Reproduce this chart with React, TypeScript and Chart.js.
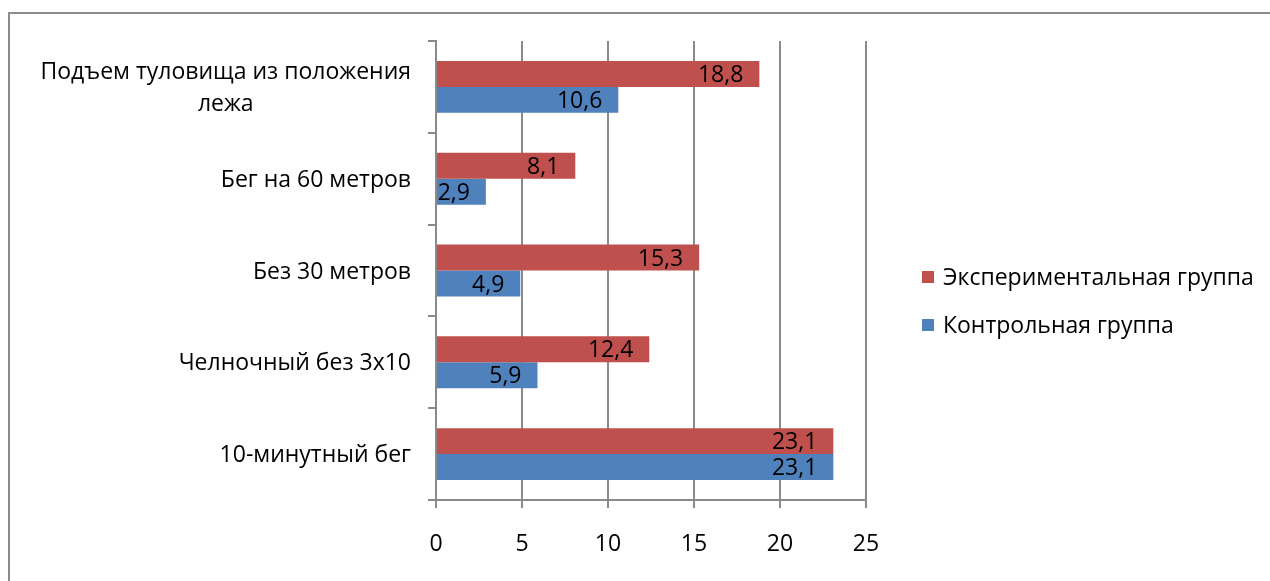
import React, { useEffect, useRef } from 'react';
import { Chart, registerables } from 'chart.js';

Chart.register(...registerables);

const categories: (string | string[])[] = [
  ['Подъем туловища из положения', 'лежа'],
  'Бег на 60 метров',
  'Без 30 метров',
  'Челночный без 3х10',
  '10-минутный бег',
];
const experimentalValues = [18.8, 8.1, 15.3, 12.4, 23.1];
const controlValues = [10.6, 2.9, 4.9, 5.9, 23.1];
const seriesNames = ['Экспериментальная группа', 'Контрольная группа'];
const seriesColors = ['#C0504D', '#4F81BD'];
const xMin = 0;
const xMax = 25;
const xStep = 5;

const FONT = '"Open Sans", "Noto Sans", sans-serif';
const FONT_SIZE = 23;
const GRID = '#8a8a8a';

const textPlugin = {
  id: 'excelText',
  afterDatasetsDraw(chart: any) {
    const ctx = chart.ctx;
    ctx.save();
    ctx.font = `${FONT_SIZE}px ${FONT}`;
    ctx.fillStyle = '#000';
    ctx.textAlign = 'right';
    ctx.textBaseline = 'middle';
    chart.data.datasets.forEach((ds: any, di: number) => {
      const meta = chart.getDatasetMeta(di);
      meta.data.forEach((el: any, i: number) => {
        const txt = String(ds.data[i]).replace('.', ',');
        ctx.fillText(txt, el.x - 16, el.y + 1.5);
      });
    });
    ctx.restore();
  },
  afterDraw(chart: any) {
    const ctx = chart.ctx;
    const yScale = chart.scales.y;
    ctx.save();
    ctx.font = `${FONT_SIZE}px ${FONT}`;
    ctx.fillStyle = '#000';
    ctx.textBaseline = 'middle';
    ctx.textAlign = 'center';
    const rightEdge = chart.chartArea.left - 25;
    categories.forEach((lab, i) => {
      const lines = Array.isArray(lab) ? lab : [lab];
      const maxW = Math.max(...lines.map((l) => ctx.measureText(l).width));
      const cx = rightEdge - maxW / 2;
      const cy = yScale.getPixelForValue(i);
      const lh = 32;
      lines.forEach((l, j) => {
        ctx.fillText(l, cx, cy + (j - (lines.length - 1) / 2) * lh + 1.5);
      });
    });
    // legend
    ctx.textAlign = 'left';
    const lx = chart.chartArea.right + 56;
    seriesNames.forEach((name, i) => {
      const cy = 277 + i * 48;
      ctx.fillStyle = seriesColors[i];
      ctx.fillRect(lx, cy - 6, 12, 12);
      ctx.fillStyle = '#000';
      ctx.fillText(name, lx + 21, cy + 1.5);
    });
    ctx.restore();
  },
};

export default function App() {
  const ref = useRef<HTMLCanvasElement | null>(null);
  useEffect(() => {
    if (!ref.current) return;
    Chart.defaults.font.family = FONT;
    const chart = new Chart(ref.current, {
      type: 'bar',
      data: {
        labels: categories as any,
        datasets: [
          {
            label: seriesNames[0],
            data: experimentalValues,
            backgroundColor: seriesColors[0],
            borderWidth: 0,
            categoryPercentage: 0.565,
            barPercentage: 1,
          },
          {
            label: seriesNames[1],
            data: controlValues,
            backgroundColor: seriesColors[1],
            borderWidth: 0,
            categoryPercentage: 0.565,
            barPercentage: 1,
          },
        ],
      },
      options: {
        indexAxis: 'y',
        animation: false,
        responsive: false,
        layout: { padding: { top: 41, left: 0, right: 404, bottom: 0 } },
        plugins: { legend: { display: false }, tooltip: { enabled: false } },
        scales: {
          x: {
            type: 'linear',
            min: xMin,
            max: xMax,
            ticks: {
              stepSize: xStep,
              color: '#000',
              font: { size: FONT_SIZE, family: FONT },
              padding: 23,
            },
            grid: { color: GRID, lineWidth: 2, tickLength: 8, drawTicks: true },
            border: { display: true, color: GRID, width: 2 },
            afterFit: (s: any) => {
              s.height = 81;
            },
          },
          y: {
            type: 'category',
            ticks: { display: false },
            grid: {
              drawOnChartArea: false,
              drawTicks: true,
              tickLength: 8,
              color: GRID,
              lineWidth: 2,
              offset: true,
            },
            border: { display: true, color: GRID, width: 2 },
            afterFit: (s: any) => {
              s.width = 436;
            },
          },
        },
      } as any,
      plugins: [textPlugin],
    });
    return () => chart.destroy();
  }, []);
  return (
    <div style={{ position: 'fixed', left: 0, top: 0, width: 1270, height: 581, overflow: 'hidden', background: '#fff' }}>
      <div
        style={{
          position: 'absolute',
          left: 8,
          top: 12,
          width: 1300,
          height: 600,
          borderLeft: '2px solid #8c8c8c',
          borderTop: '2px solid #8c8c8c',
        }}
      />
      <canvas ref={ref} width={1270} height={581} style={{ position: 'absolute', left: 0, top: 0, display: 'block' }} />
    </div>
  );
}
